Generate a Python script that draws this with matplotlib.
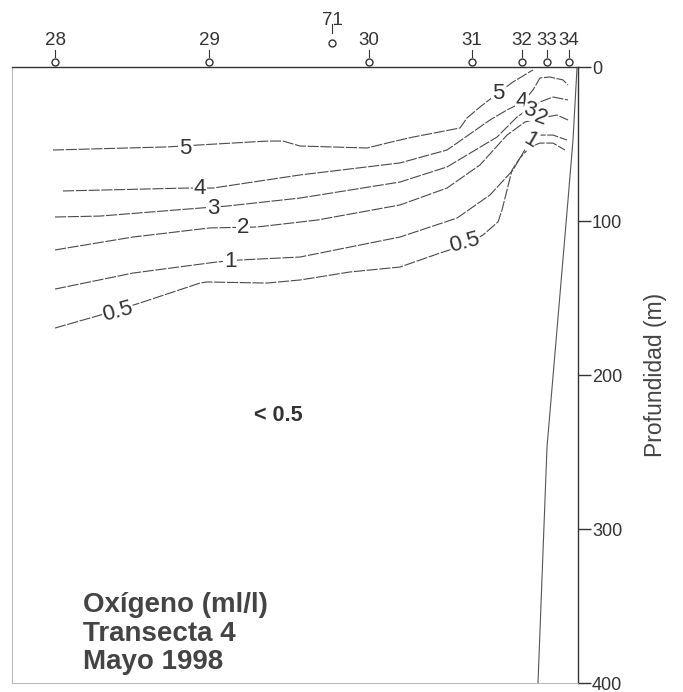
import matplotlib
matplotlib.use("Agg")
import matplotlib.pyplot as plt

plt.rcParams['font.family'] = ['Liberation Sans', 'DejaVu Sans']

# estaciones (distancia en km desde la estacion 28)
estaciones = ['28', '29', '71', '30', '31', '32', '33', '34']
dist_est = [0, 38.5, 69.3, 78.5, 104.3, 116.8, 123.0, 128.5]

# isolineas de oxigeno (distancia km, profundidad m)
c5_x = [-0.5, 28.0, 36.25, 53.0, 57.0, 61.25, 78.0, 83.0, 86.25, 89.5, 101.25, 103.0, 106.25, 110.75, 114.5, 119.5]
c5_z = [53.9, 51.9, 50.6, 48.1, 48.1, 51.3, 52.6, 49.4, 47.4, 45.5, 39.6, 33.1, 26.0, 16.9, 9.7, 1.9]

c4_x = [2.0, 33.0, 39.5, 61.25, 86.25, 98.0, 108.75, 113.0, 117.0, 119.5, 121.25, 123.75, 127.0, 128.25]
c4_z = [80.5, 78.6, 78.6, 70.1, 62.3, 53.9, 34.4, 27.9, 22.7, 14.9, 7.1, 6.5, 8.4, 11.7]

c3_x = [0, 11.25, 36.25, 43.0, 61.25, 86.25, 98.0, 110.5, 115.5, 118.75, 121.25, 124.5, 128.25]
c3_z = [97.4, 96.8, 91.6, 90.3, 85.1, 74.7, 64.9, 45.5, 32.5, 26.6, 22.7, 19.5, 21.4]

c2_x = [0, 19.5, 38.75, 50.5, 65.5, 86.25, 98.0, 106.25, 113.0, 117.5, 121.5, 125.5, 128.25]
c2_z = [118.8, 110.4, 104.5, 103.9, 99.4, 89.6, 78.6, 63.6, 44.2, 35.7, 33.1, 31.2, 34.4]

c1_x = [0, 19.5, 40.5, 46.25, 61.25, 73.75, 86.25, 100.5, 108.75, 114.5, 117.0, 118.75, 120.75, 124.5, 128.0]
c1_z = [144.2, 133.8, 126.6, 125.3, 123.4, 116.9, 110.4, 98.1, 83.1, 66.9, 55.8, 48.1, 44.2, 44.2, 47.4]

c05_x = [0, 15.75, 22.0, 36.25, 38.0, 53.0, 61.25, 73.75, 86.25, 96.25, 102.5, 107.0, 110.75, 111.75,
         113.0, 114.25, 116.25, 118.75, 121.25, 124.5, 127.5]
c05_z = [169.5, 157.8, 152.6, 140.3, 139.6, 140.3, 138.3, 133.1, 129.9, 120.8, 115.6, 109.1, 100.6, 92.9,
         79.9, 66.9, 59.1, 51.9, 49.4, 49.4, 53.9]

# etiquetas de isolineas: texto, distancia, profundidad, rotacion
etiq_txt = ['5', '5', '4', '4', '3', '3', '2', '2', '1', '1', '0.5', '0.5']
etiq_x = [32.5, 110.75, 36.25, 116.75, 39.5, 118.75, 47.0, 121.5, 43.75, 118.75, 15.75, 102.5]
etiq_z = [52.6, 16.9, 79.2, 22.1, 91.6, 27.9, 104.5, 33.1, 126.6, 47.4, 159.1, 114.3]
etiq_rot = [0, 0, 0, 0, 0, -15, 0, -20, 0, -30, 15, 15]

# fondo marino
fondo_x = [130.5, 129.5, 128.25, 123.0, 120.75]
fondo_z = [0.6, 47.4, 86.4, 246.8, 400]

prof_ticks = [0, 100, 200, 300, 400]

fig = plt.figure(figsize=(6.83, 6.92), dpi=100)
ax = fig.add_axes([12 / 683, 9 / 692, 566 / 683, 616 / 692])
ax.set_xlim(-10.75, 130.75)
ax.set_ylim(400, 0)

col = '#4a4a4a'
for xs, zs in [(c5_x, c5_z), (c4_x, c4_z), (c3_x, c3_z), (c2_x, c2_z), (c1_x, c1_z), (c05_x, c05_z)]:
    ax.plot(xs, zs, color=col, lw=0.8, ls=(0, (10, 1.5)))

for t, x, z, r in zip(etiq_txt, etiq_x, etiq_z, etiq_rot):
    ax.text(x, z, t, fontsize=16, color='#333333', ha='center', va='center', rotation=r,
            bbox=dict(facecolor='white', edgecolor='none', pad=0.3))

ax.plot(fondo_x, fondo_z, color='#555555', lw=0.8)

# estaciones en la parte superior
tr = ax.get_xaxis_transform()
for nombre, x in zip(estaciones, dist_est):
    if nombre == '71':
        yc, yt0, yt1, yl = 1.039, 1.0552, 1.0698, 1.0747
    else:
        yc, yt0, yt1, yl = 1.0081, 1.0162, 1.0276, 1.0438
    ax.plot([x], [yc], marker='o', ms=5, mfc='white', mec='#333333', mew=1.0,
            transform=tr, clip_on=False)
    ax.plot([x, x], [yt0, yt1], color='#333333', lw=0.8, transform=tr, clip_on=False)
    ax.text(x, yl, nombre, fontsize=13.5, color='#333333', ha='center', va='center', transform=tr)

# ejes
for s in ['left', 'bottom']:
    ax.spines[s].set_color('#aaaaaa')
    ax.spines[s].set_linewidth(0.6)
ax.spines['top'].set_color('#333333')
ax.spines['right'].set_color('#333333')
ax.spines['top'].set_linewidth(1.0)
ax.spines['right'].set_linewidth(1.0)

ax.set_xticks([])
ax.yaxis.tick_right()
ax.set_yticks(prof_ticks)
ax.tick_params(axis='y', direction='out', length=9, width=1.0, colors='#333333',
               labelsize=13, pad=1)
ax.yaxis.set_label_position('right')
ax.set_ylabel('Profundidad (m)', fontsize=16.5, color='#444444', labelpad=16)

ax.text(55.75, 226, '< 0.5', fontsize=15.5, fontweight='bold', color='#333333',
        ha='center', va='center')

ax.text(7.0, 368, 'Oxígeno (ml/l)\nTransecta 4\nMayo 1998', fontsize=20, fontweight='bold',
        color='#444444', ha='left', va='center', linespacing=1.12)

fig.savefig('out.png', dpi=100)
